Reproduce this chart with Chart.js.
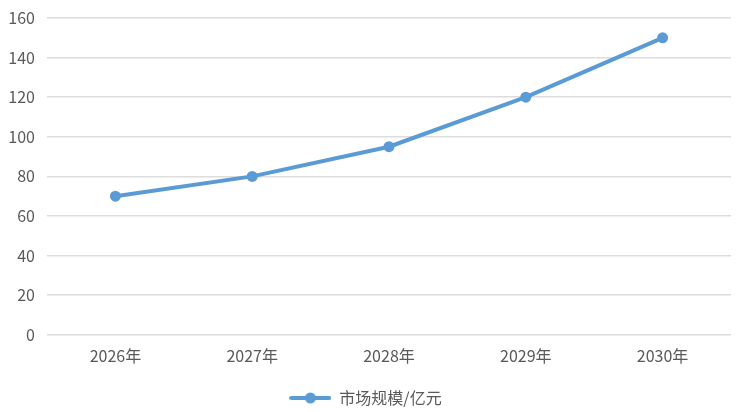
<!DOCTYPE html>
<html>
<head>
<meta charset="utf-8">
<script src="https://cdn.jsdelivr.net/npm/chart.js@4/dist/chart.umd.min.js"></script>
<style>
  html, body { margin: 0; padding: 0; background: #fff; }
  #wrap { width: 750px; height: 412px; }
</style>
</head>
<body>
<div id="wrap"><canvas id="marketChart"></canvas></div>
<script>
const years = ['2026年', '2027年', '2028年', '2029年', '2030年'];
const marketSize = [70, 80, 95, 120, 150];
const seriesName = '市场规模/亿元';

const lineColor = '#5B9BD5';
const textColor = '#595959';
const fontFamily = '"Noto Sans CJK SC", "Noto Sans", sans-serif';

// legend marker: line with a dot in the middle
const marker = document.createElement('canvas');
marker.width = 42;
marker.height = 14;
const mctx = marker.getContext('2d');
mctx.strokeStyle = lineColor;
mctx.lineWidth = 4;
mctx.lineCap = 'round';
mctx.beginPath();
mctx.moveTo(2, 7);
mctx.lineTo(40, 7);
mctx.stroke();
mctx.fillStyle = lineColor;
mctx.beginPath();
mctx.arc(21, 7, 5.5, 0, Math.PI * 2);
mctx.fill();

const ctx = document.getElementById('marketChart').getContext('2d');

new Chart(ctx, {
    type: 'line',
    data: {
        labels: years,
        datasets: [{
            label: seriesName,
            data: marketSize,
            borderColor: lineColor,
            backgroundColor: lineColor,
            borderWidth: 4,
            pointRadius: 5.5,
            pointHoverRadius: 5.5,
            pointBackgroundColor: lineColor,
            pointBorderWidth: 0,
            tension: 0
        }]
    },
    options: {
        responsive: true,
        maintainAspectRatio: false,
        animation: false,
        layout: {
            padding: { top: 18, right: 19, left: 0, bottom: -4 }
        },
        scales: {
            x: {
                offset: true,
                afterFit: scale => { scale.height += 14; },
                grid: { display: false },
                border: { display: false },
                ticks: {
                    color: textColor,
                    font: { family: fontFamily, size: 16 },
                    padding: 4
                }
            },
            y: {
                min: 0,
                max: 160,
                afterFit: scale => {
                    scale.width = 47;
                    scale.paddingTop = 0;
                    scale.paddingBottom = 0;
                },
                grid: {
                    color: '#DDDDDD',
                    lineWidth: 1.5,
                    drawTicks: false
                },
                border: { display: false },
                ticks: {
                    stepSize: 20,
                    color: textColor,
                    font: { family: fontFamily, size: 16 },
                    padding: 12
                }
            }
        },
        plugins: {
            tooltip: { enabled: false },
            legend: {
                position: 'bottom',
                labels: {
                    usePointStyle: true,
                    pointStyleWidth: 42,
                    color: textColor,
                    font: { family: fontFamily, size: 16 },
                    padding: 6,
                    generateLabels: chart => chart.data.datasets.map((ds, i) => ({
                        text: ds.label,
                        pointStyle: marker,
                        fontColor: textColor,
                        datasetIndex: i,
                        hidden: false
                    }))
                }
            }
        }
    }
});
</script>
</body>
</html>
